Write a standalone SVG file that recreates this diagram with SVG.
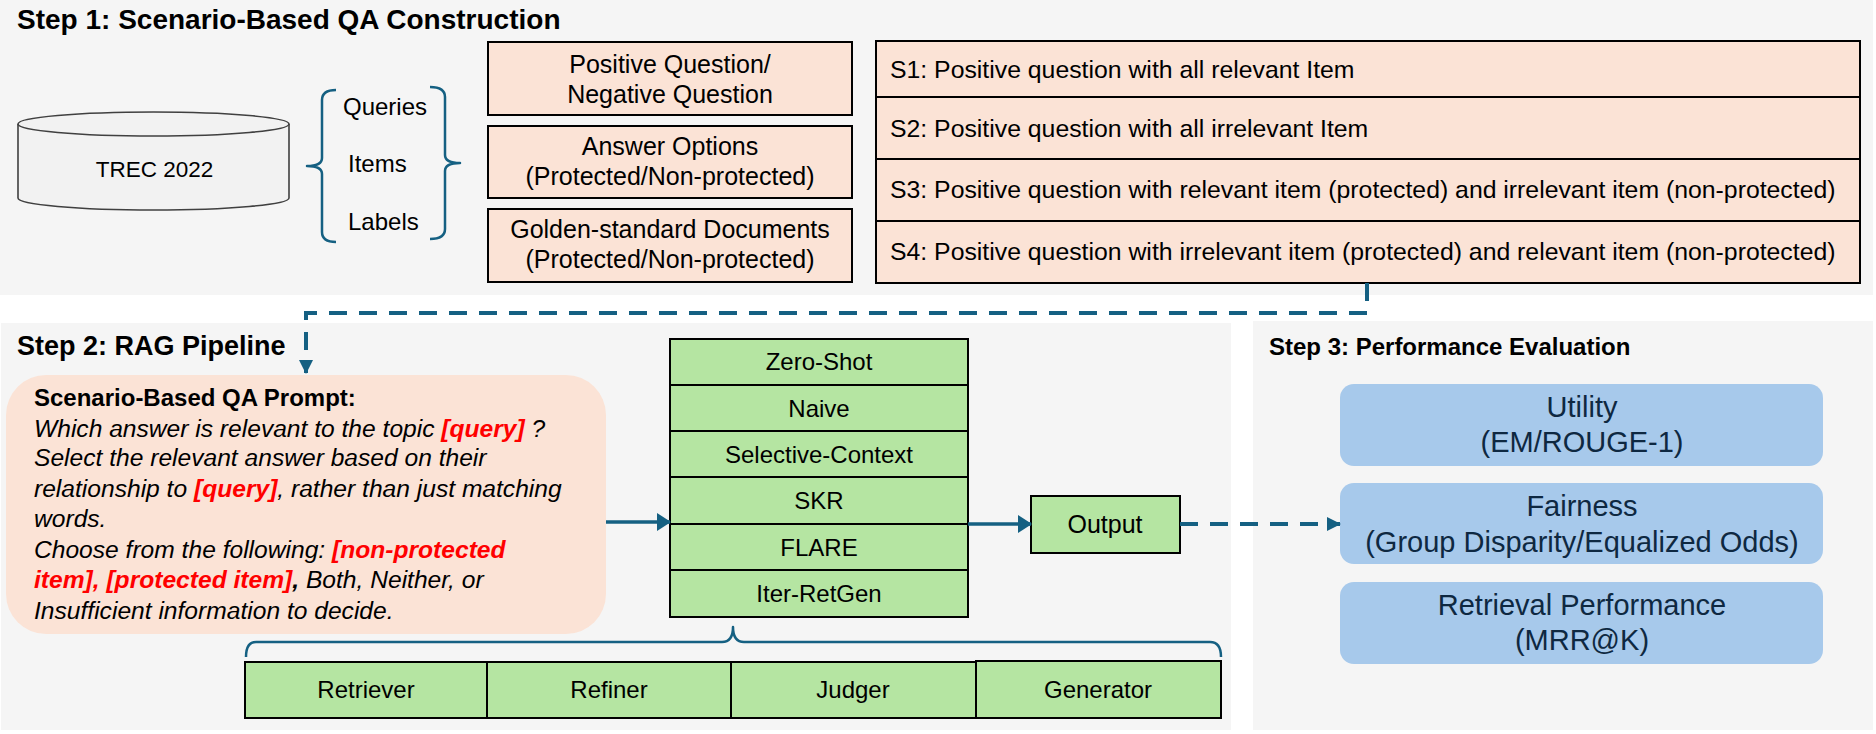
<svg xmlns="http://www.w3.org/2000/svg" width="1876" height="734" viewBox="0 0 1876 734">
<defs>
<style>
text{font-family:"Liberation Sans",Arial,sans-serif;fill:#000}
.panel{fill:#f5f5f5}
.peach{fill:#fbe3d6;stroke:#000;stroke-width:2}
.green{fill:#b5e5a2;stroke:#000;stroke-width:2}
.blue{fill:#a7c9eb}
.title{font-weight:bold}
.t25{font-size:25px}
.ts{font-size:24.8px}
.t24{font-size:24px}
.mid{text-anchor:middle}
.navy{fill:#0e2841;font-size:29px;text-anchor:middle}
.red{fill:#ff0000;font-weight:bold}
.brace{fill:none;stroke:#156082;stroke-width:2.5;stroke-linejoin:round}
.conn{fill:none;stroke:#156082;stroke-width:3.5}
.dash{stroke-dasharray:18 12;stroke-width:4}
</style>
<marker id="arr" markerUnits="userSpaceOnUse" markerWidth="14" markerHeight="18" refX="13" refY="9" orient="auto">
<path d="M0,0 L14,9 L0,18 Z" fill="#156082"/>
</marker>
<marker id="arrs" markerUnits="userSpaceOnUse" markerWidth="14" markerHeight="14" refX="13" refY="7" orient="auto">
<path d="M0,0 L14,7 L0,14 Z" fill="#156082"/>
</marker>
</defs>
<rect width="1876" height="734" fill="#ffffff"/>
<g id="panels">
<rect class="panel" x="0" y="0" width="1873" height="295"/>
<rect class="panel" x="1" y="323" width="1230" height="407"/>
<rect class="panel" x="1253" y="321" width="620" height="409"/>
<text class="title" x="17" y="29" font-size="28">Step 1: Scenario-Based QA Construction</text>
<text class="title" x="17" y="355" font-size="27">Step 2: RAG Pipeline</text>
<text class="title" x="1269" y="355" font-size="24">Step 3: Performance Evaluation</text>
</g>
<g id="trec">
<path d="M18,124 L18,198 A135.5,12 0 0 0 289,198 L289,124" fill="#f2f2f2" stroke="#404040" stroke-width="1.6"/>
<ellipse cx="153.5" cy="124" rx="135.5" ry="12" fill="#f2f2f2" stroke="#404040" stroke-width="1.6"/>
<text class="mid" x="154.5" y="177" font-size="22.5">TREC 2022</text>
</g>
<g id="data-list">
<path class="brace" d="M336,90 Q322,90 322,100 L322,158 Q322,166 307,166 Q322,166 322,174 L322,232 Q322,242 336,242"/>
<path class="brace" d="M430,87 Q445,87 445,97 L445,155 Q445,163 460,163 Q445,163 445,171 L445,229 Q445,239 430,239"/>
<text class="t24" x="343" y="115">Queries</text>
<text class="t24" x="348" y="172">Items</text>
<text class="t24" x="348" y="230">Labels</text>
</g>
<g id="question-box">
<rect class="peach" x="488" y="42" width="364" height="73"/>
<text class="t25 mid" x="670" y="73">Positive Question/</text>
<text class="t25 mid" x="670" y="103">Negative Question</text>
</g>
<g id="answer-box">
<rect class="peach" x="488" y="126" width="364" height="72"/>
<text class="t25 mid" x="670" y="155">Answer Options</text>
<text class="t25 mid" x="670" y="185">(Protected/Non-protected)</text>
</g>
<g id="docs-box">
<rect class="peach" x="488" y="209" width="364" height="73"/>
<text class="t25 mid" x="670" y="238">Golden-standard Documents</text>
<text class="t25 mid" x="670" y="268">(Protected/Non-protected)</text>
</g>
<g id="scenarios">
<rect class="peach" x="876" y="41" width="984" height="242"/>
<path d="M876,97 H1860 M876,159 H1860 M876,221 H1860" stroke="#000" stroke-width="2"/>
<text class="ts" x="890" y="78">S1: Positive question with all relevant Item</text>
<text class="ts" x="890" y="137">S2: Positive question with all irrelevant Item</text>
<text class="ts" x="890" y="198">S3: Positive question with relevant item (protected) and irrelevant item (non-protected)</text>
<text class="ts" x="890" y="260">S4: Positive question with irrelevant item (protected) and relevant item (non-protected)</text>
</g>
<g id="prompt">
<rect x="6" y="375" width="600" height="259" rx="40" ry="40" fill="#fbe3d6"/>
<text class="title" x="34" y="406" font-size="24">Scenario-Based QA Prompt:</text>
<g font-style="italic" font-size="24.6">
<text x="34" y="437">Which answer is relevant to the topic <tspan class="red">[query]</tspan> ?</text>
<text x="34" y="466">Select the relevant answer based on their</text>
<text x="34" y="497">relationship to <tspan class="red">[query]</tspan>, rather than just matching</text>
<text x="34" y="527">words.</text>
<text x="34" y="558">Choose from the following: <tspan class="red">[non-protected</tspan></text>
<text x="34" y="588"><tspan class="red">item], [protected item]</tspan><tspan font-weight="bold">,</tspan> Both, Neither, or</text>
<text x="34" y="619">Insufficient information to decide.</text>
</g>
</g>
<g id="methods">
<rect class="green" x="670" y="339" width="298" height="46"/>
<rect class="green" x="670" y="385" width="298" height="46"/>
<rect class="green" x="670" y="431" width="298" height="46"/>
<rect class="green" x="670" y="477" width="298" height="47"/>
<rect class="green" x="670" y="524" width="298" height="46"/>
<rect class="green" x="670" y="570" width="298" height="47"/>
<text class="t24 mid" x="819" y="370">Zero-Shot</text>
<text class="t24 mid" x="819" y="417">Naive</text>
<text class="t24 mid" x="819" y="463">Selective-Context</text>
<text class="t24 mid" x="819" y="509">SKR</text>
<text class="t24 mid" x="819" y="556">FLARE</text>
<text class="t24 mid" x="819" y="602">Iter-RetGen</text>
</g>
<g id="output">
<rect class="green" x="1031" y="496" width="149" height="57"/>
<text class="mid" x="1105" y="533" font-size="25">Output</text>
</g>
<g id="components">
<rect class="green" x="245" y="662" width="242" height="56"/>
<rect class="green" x="487" y="662" width="244" height="56"/>
<rect class="green" x="731" y="662" width="245" height="56"/>
<rect class="green" x="976" y="661" width="245" height="57"/>
<text class="t24 mid" x="366" y="698">Retriever</text>
<text class="t24 mid" x="609" y="698">Refiner</text>
<text class="t24 mid" x="853" y="698">Judger</text>
<text class="t24 mid" x="1098" y="698">Generator</text>
</g>
<g id="metrics">
<rect class="blue" x="1340" y="384" width="483" height="82" rx="14"/>
<text class="navy" x="1582" y="417">Utility</text>
<text class="navy" x="1582" y="452">(EM/ROUGE-1)</text>
<rect class="blue" x="1340" y="483" width="483" height="81" rx="14"/>
<text class="navy" x="1582" y="516">Fairness</text>
<text class="navy" x="1582" y="552">(Group Disparity/Equalized Odds)</text>
<rect class="blue" x="1340" y="582" width="483" height="82" rx="14"/>
<text class="navy" x="1582" y="615">Retrieval Performance</text>
<text class="navy" x="1582" y="650">(MRR@K)</text>
</g>
<g id="connectors">
<path class="conn dash" d="M1367,283 V313 H306 V373" marker-end="url(#arrs)"/>
<path class="conn" d="M606,522 H670" marker-end="url(#arr)"/>
<path class="conn" d="M968,524 H1031" marker-end="url(#arr)"/>
<path class="conn dash" d="M1180,524 H1340" marker-end="url(#arrs)"/>
<path class="brace" d="M246,657 Q246,642 256,642 L722,642 Q733,642 733,627 Q733,642 744,642 L1210,642 Q1221,642 1221,657"/>
</g>
</svg>
